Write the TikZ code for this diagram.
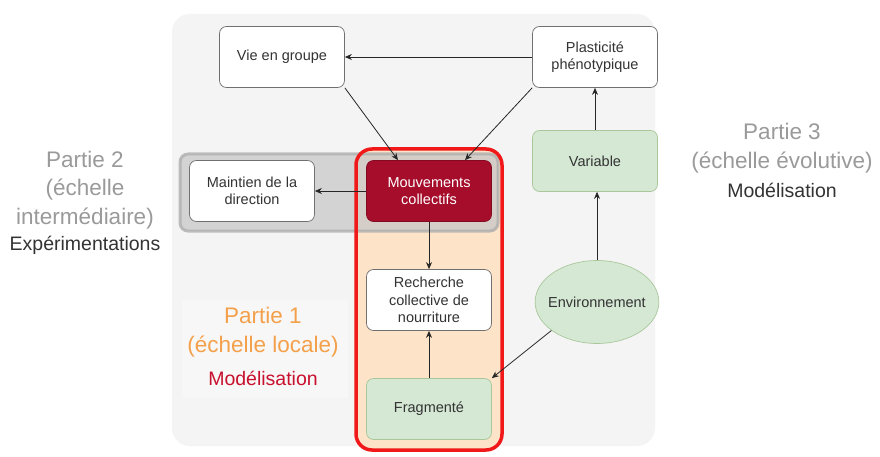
\documentclass[tikz,border=0pt]{standalone}
\usepackage{fontspec}
\setmainfont{Liberation Sans}
\usetikzlibrary{arrows.meta,shapes.geometric}
\definecolor{panelgrey}{HTML}{F4F4F4}
\definecolor{bandfill}{HTML}{C8C8C8}
\definecolor{banddraw}{HTML}{ABABAB}
\definecolor{peach}{HTML}{FDE3C8}
\definecolor{redline}{HTML}{F01818}
\definecolor{darkred}{HTML}{A50D2B}
\definecolor{greenfill}{HTML}{D5E8D4}
\definecolor{greendraw}{HTML}{A9C79B}
\definecolor{boxdraw}{HTML}{707070}
\definecolor{softgrey}{HTML}{9A9A9A}
\definecolor{darktext}{HTML}{333333}
\definecolor{orangetext}{HTML}{F4A04A}
\definecolor{crimsontext}{HTML}{C8102E}
\tikzset{
  boxbase/.style={rectangle, rounded corners=7pt, minimum width=125pt, minimum height=61pt,
    align=center, font=\fontsize{14.5}{17.5}\selectfont, line width=0.7pt},
  whitebox/.style={boxbase, draw=boxdraw, fill=white, text=darktext},
  greenbox/.style={boxbase, draw=greendraw, fill=greenfill, text=darktext},
  redbox/.style={boxbase, draw=darkred!80!black, fill=darkred, text=white},
  envnode/.style={ellipse, draw=greendraw, fill=greenfill, inner xsep=-5pt, inner ysep=24pt,
    font=\fontsize{14.5}{17.5}\selectfont, text=darktext, line width=0.7pt},
  link/.style={-{Stealth[length=7pt,width=6pt]}, line width=0.8pt, draw=black!85},
  bigtext/.style={align=center, font=\fontsize{22.5}{28.5}\selectfont},
  subtext/.style={align=center, font=\fontsize{19.5}{23}\selectfont}
}
\begin{document}
\begin{tikzpicture}[x=1pt,y=-1pt]
\useasboundingbox (0,0) rectangle (880,457);
\fill[white] (0,0) rectangle (880,457);
% light panel behind the diagram
\fill[panelgrey, rounded corners=18pt] (172,14) rectangle (655,446);
% soft highlight behind the local-scale caption
\fill[white, opacity=0.3] (182,300) rectangle (348,398);
% peach area of the local scale
\fill[peach, rounded corners=14pt] (356,149) rectangle (502,450);
% grey band of the intermediate scale
\filldraw[fill=bandfill, draw=banddraw, line width=3pt, rounded corners=8pt, opacity=0.75]
  (180,154) rectangle (498,231);
% red outline of the local scale
\draw[redline, line width=3.5pt, rounded corners=16pt] (356,149) rectangle (502,450);

% nodes
\node[whitebox] (vie) at (282,57) {Vie en groupe};
\node[whitebox] (plast) at (595,57) {Plasticité\\phénotypique};
\node[greenbox] (var) at (595,161) {Variable};
\node[envnode] (env) at (597,302) {Environnement};
\node[whitebox] (maint) at (252,191) {Maintien de la\\direction};
\node[redbox] (mouv) at (429,191) {Mouvements\\collectifs};
\node[whitebox] (rech) at (429,300) {Recherche\\collective de\\nourriture};
\node[greenbox] (frag) at (429,409) {Fragmenté};

% connectors
\draw[link] (plast.west) -- (vie.east);
\draw[link] (vie.south east) -- ([xshift=-31pt]mouv.north);
\draw[link] (plast.south west) -- ([xshift=36pt]mouv.north);
\draw[link] (mouv.west) -- (maint.east);
\draw[link] (mouv.south) -- (rech.north);
\draw[link] (frag.north) -- (rech.south);
\draw[link] (var.north) -- (plast.south);
\draw[link] (env.north) -- (env.north |- var.south);
\draw[link] (env.212) -- (frag.north east);

% captions
\node[bigtext, text=softgrey] (p2) at (85,190) {Partie 2\\(échelle\\intermédiaire)};
\node[subtext, text=darktext, anchor=north] (p2b) at (85,233) {Expérimentations};
\node[bigtext, text=softgrey] (p3) at (782,148) {Partie 3\\(échelle évolutive)};
\node[subtext, text=darktext, anchor=north] (p3b) at (782,180) {Modélisation};
\node[bigtext, text=orangetext] (p1) at (263,332) {Partie 1\\(échelle locale)};
\node[subtext, text=crimsontext, anchor=north] (p1b) at (263,368) {Modélisation};
\end{tikzpicture}
\end{document}
